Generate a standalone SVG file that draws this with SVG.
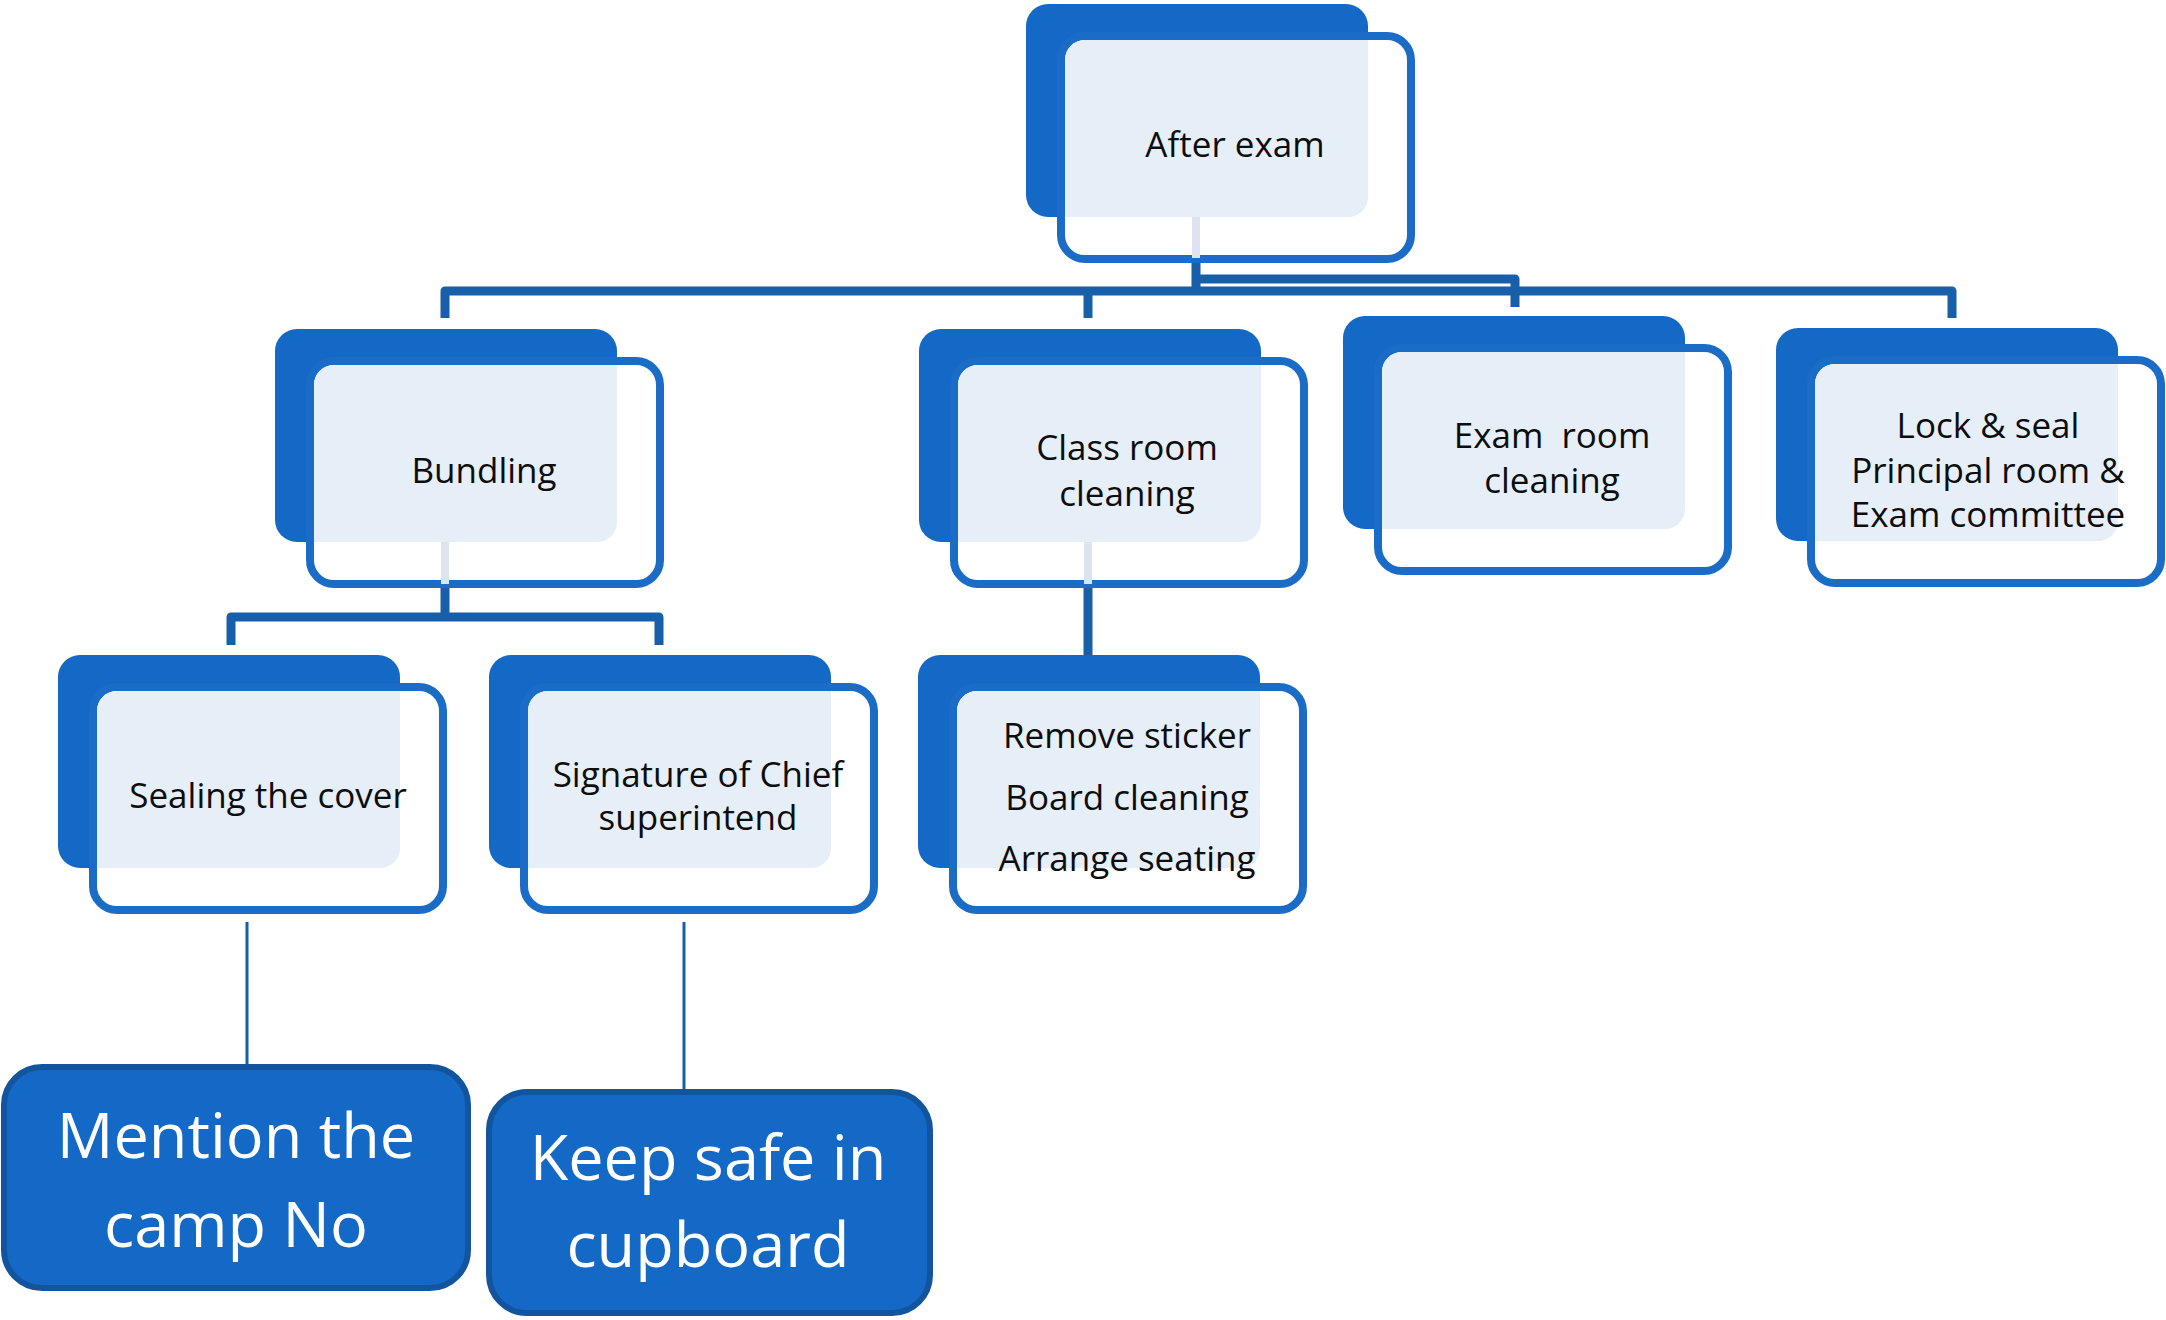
<svg xmlns="http://www.w3.org/2000/svg" xmlns:xlink="http://www.w3.org/1999/xlink" width="2166" height="1320" viewBox="0 0 2166 1320">
  <style>
    .back { fill: #1569c6; }
    .front { fill: #ffffff; stroke: #1a6cc7; stroke-width: 8; }
    .pale { fill: #e6eef7; }
    .ghost { stroke: #dde4ee; stroke-width: 8; fill: none; }
    .lbl { font-family: "Open Sans", "Liberation Sans", sans-serif; font-size: 35px; fill: #0d0d0d; text-anchor: middle; }
    .big { font-family: "Open Sans", "Liberation Sans", sans-serif; font-size: 63px; fill: #ffffff; text-anchor: middle; }
    .solid { fill: #1569c6; stroke: #12559e; stroke-width: 6; }
    .wire { stroke: #185fa9; stroke-width: 9; fill: none; stroke-linejoin: round; }
    .thin { stroke: #185fa9; stroke-width: 3; fill: none; }
  </style>
  <defs>
    <!-- stacked card: solid block behind, outlined card in front, tinted overlap -->
    <g id="card">
      <rect class="back" x="0" y="0" width="342" height="213" rx="22"/>
      <rect class="front" x="35" y="32" width="350" height="223" rx="24"/>
      <path class="pale" d="M59,36 H342 V193 A20 20 0 0 1 322,213 H39 V56 A20 20 0 0 1 59,36 Z"/>
    </g>
  </defs>
  <rect width="2166" height="1320" fill="#ffffff"/>

  <g id="connectors">
    <path class="wire" d="M1196,260 V291"/>
    <path class="wire" d="M1196,279 H1515 V307"/>
    <path class="wire" d="M445,318 V291 H1952 V318"/>
    <path class="wire" d="M1088,291 V318"/>
    <path class="wire" d="M445,588 V617"/>
    <path class="wire" d="M231,645 V617 H659 V645"/>
    <path class="wire" d="M1088,588 V655"/>
    <path class="thin" d="M247,922 V1065"/>
    <path class="thin" d="M684,922 V1090"/>
  </g>

  <g id="after-exam">
    <use xlink:href="#card" transform="translate(1026,4)"/>
    <path class="ghost" d="M1196,217 V258"/>
    <text class="lbl" x="1235" y="157">After exam</text>
  </g>

  <g id="bundling">
    <use xlink:href="#card" transform="translate(275,329)"/>
    <path class="ghost" d="M445,542 V584"/>
    <text class="lbl" x="484" y="483">Bundling</text>
  </g>

  <g id="class-room-cleaning">
    <use xlink:href="#card" transform="translate(919,329)"/>
    <path class="ghost" d="M1088,542 V584"/>
    <text class="lbl" x="1127" y="460">Class room</text>
    <text class="lbl" x="1127" y="506">cleaning</text>
  </g>

  <g id="exam-room-cleaning">
    <use xlink:href="#card" transform="translate(1343,316)"/>
    <text class="lbl" x="1552" y="448" style="white-space:pre">Exam  room</text>
    <text class="lbl" x="1552" y="493">cleaning</text>
  </g>

  <g id="lock-and-seal">
    <use xlink:href="#card" transform="translate(1776,328)"/>
    <text class="lbl" x="1988" y="438">Lock &amp; seal</text>
    <text class="lbl" x="1988" y="483">Principal room &amp;</text>
    <text class="lbl" x="1988" y="527">Exam committee</text>
  </g>

  <g id="sealing-the-cover">
    <use xlink:href="#card" transform="translate(58,655)"/>
    <text class="lbl" x="268" y="808">Sealing the cover</text>
  </g>

  <g id="signature">
    <use xlink:href="#card" transform="translate(489,655)"/>
    <text class="lbl" x="698" y="787">Signature of Chief</text>
    <text class="lbl" x="698" y="830">superintend</text>
  </g>

  <g id="class-room-tasks">
    <use xlink:href="#card" transform="translate(918,655)"/>
    <text class="lbl" x="1127" y="748">Remove sticker</text>
    <text class="lbl" x="1127" y="810">Board cleaning</text>
    <text class="lbl" x="1127" y="871">Arrange seating</text>
  </g>

  <g id="mention-camp-no">
    <rect class="solid" x="4" y="1067" width="464" height="221" rx="38"/>
    <text class="big" x="236" y="1158">Mention the</text>
    <text class="big" x="236" y="1247">camp No</text>
  </g>

  <g id="keep-safe">
    <rect class="solid" x="489" y="1092" width="441" height="221" rx="38"/>
    <text class="big" x="708" y="1180">Keep safe in</text>
    <text class="big" x="708" y="1267">cupboard</text>
  </g>
</svg>
